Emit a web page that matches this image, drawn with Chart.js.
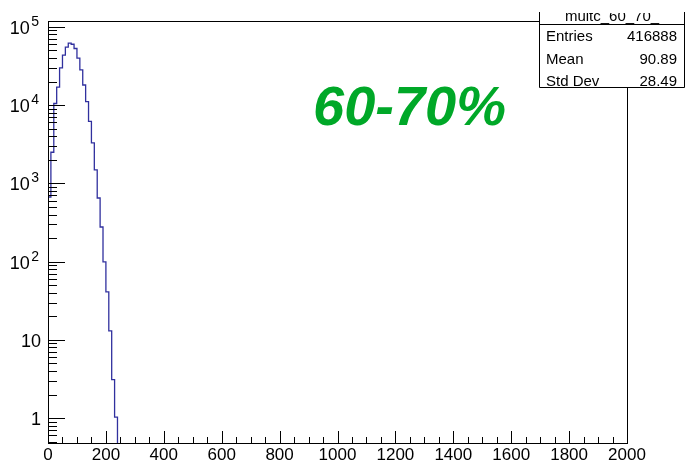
<!DOCTYPE html>
<html>
<head>
<meta charset="utf-8">
<script src="https://cdn.jsdelivr.net/npm/chart.js@4.4.1/dist/chart.umd.min.js"></script>
<style>
    html, body { margin: 0; padding: 0; background: #fff; }
    #wrap { width: 688px; height: 466px; }
</style>
</head>
<body>
<div id="wrap"><canvas id="c" width="688" height="466"></canvas></div>
<script>
// Histograma de multiplicidad (centralidad 60-70%), bins de 10 unidades, eje Y logarítmico.
var binEdges = [0, 10, 20, 30, 40, 50, 60, 70, 80, 90, 100, 110, 120, 130, 140, 150, 160, 170, 180, 190, 200, 210, 220, 230, 240, 250];
// el último bin está vacío; en escala log se pinta por debajo del mínimo (recortado)
var counts = [90, 670, 2500, 10500, 17000, 30000, 43500, 55000, 62000, 60000, 53000, 39800, 28200, 18100, 11100, 6200, 3300, 1490, 650, 277, 99, 41, 13, 3.1, 1.03, 1e-6];

var xTickLabels = [0, 200, 400, 600, 800, 1000, 1200, 1400, 1600, 1800, 2000];
var yTickValues = [1, 10, 100, 1000, 10000, 100000];
var yTickLabels = [["1", ""], ["10", ""], ["10", "2"], ["10", "3"], ["10", "4"], ["10", "5"]];

var histName = "multc_60_70_";
var statLabels = ["Entries", "Mean", "Std Dev"];
var statValues = ["416888", "90.89", "28.49"];
var centrality = "60-70%";

var FONT = "'Liberation Sans', Arial, sans-serif";

// Marco, marcas hacia dentro, etiquetas y caja de estadísticas al estilo ROOT.
var rootFrame = {
    id: "rootFrame",
    afterDraw: function (chart) {
        var ctx = chart.ctx, a = chart.chartArea;
        var xs = chart.scales.x, ys = chart.scales.y;
        var i, v, px, py;
        ctx.save();
        ctx.strokeStyle = "#000";
        ctx.lineWidth = 1;
        ctx.strokeRect(Math.round(a.left) + 0.5, Math.round(a.top) + 0.5,
            Math.round(a.right - a.left), Math.round(a.bottom - a.top));

        ctx.beginPath();
        for (v = 0; v <= 2000; v += 50) {
            px = Math.round(xs.getPixelForValue(v)) + 0.5;
            ctx.moveTo(px, a.bottom);
            ctx.lineTo(px, a.bottom - (v % 200 === 0 ? 12 : 6));
        }
        for (var d = -1; d <= 5; d++) {
            for (var m = 1; m <= 9; m++) {
                v = m * Math.pow(10, d);
                if (v < ys.min || v > ys.max) continue;
                py = Math.round(ys.getPixelForValue(v)) + 0.5;
                ctx.moveTo(a.left, py);
                ctx.lineTo(a.left + (m === 1 ? 17 : 9), py);
            }
        }
        ctx.stroke();

        ctx.fillStyle = "#000";
        ctx.font = "17px " + FONT;
        ctx.textAlign = "center";
        ctx.textBaseline = "alphabetic";
        for (i = 0; i < xTickLabels.length; i++) {
            ctx.fillText(String(xTickLabels[i]), xs.getPixelForValue(xTickLabels[i]), a.bottom + 17);
        }

        ctx.textAlign = "right";
        for (i = 0; i < yTickValues.length; i++) {
            py = ys.getPixelForValue(yTickValues[i]);
            var base = yTickLabels[i][0], sup = yTickLabels[i][1];
            if (sup) {
                ctx.font = "14px " + FONT;
                ctx.fillText(sup, 39, py - 1);
                var sw = ctx.measureText(sup).width;
                ctx.font = "18px " + FONT;
                ctx.fillText(base, 39 - sw - 1.5, py + 7);
            } else {
                ctx.font = "18px " + FONT;
                ctx.fillText(base, 41, py + 7);
            }
        }

        // caja de estadísticas
        var bx = 539.5, by = 12, bw = 145, bb = 87.5;
        ctx.fillStyle = "#fff";
        ctx.fillRect(bx, by, bw, bb - by);
        ctx.beginPath();
        ctx.moveTo(bx, by); ctx.lineTo(bx, bb); ctx.lineTo(bx + bw, bb); ctx.lineTo(bx + bw, by);
        ctx.moveTo(bx, 24.5); ctx.lineTo(bx + bw, 24.5);
        ctx.stroke();

        ctx.save();
        ctx.beginPath();
        ctx.rect(bx, 13, bw, 11);
        ctx.clip();
        ctx.fillStyle = "#000";
        ctx.font = "15px " + FONT;
        ctx.textAlign = "center";
        ctx.fillText(histName, bx + bw / 2, 21);
        ctx.restore();

        ctx.fillStyle = "#000";
        ctx.font = "15px " + FONT;
        var rows = [41, 64, 86];
        for (i = 0; i < statLabels.length; i++) {
            ctx.textAlign = "left";
            ctx.fillText(statLabels[i], 546, rows[i]);
            ctx.textAlign = "right";
            ctx.fillText(statValues[i], 677, rows[i]);
        }

        ctx.fillStyle = "rgb(0,168,40)";
        ctx.font = "italic bold 56px " + FONT;
        ctx.textAlign = "left";
        ctx.fillText(centrality, 313, 125);
        ctx.restore();
    }
};

var points = binEdges.map(function (e, i) { return { x: e, y: counts[i] }; });

new Chart(document.getElementById("c"), {
    type: "line",
    data: {
        datasets: [{
            data: points,
            borderColor: "#30309e",
            borderWidth: 1.3,
            pointRadius: 0,
            stepped: "after",
            fill: false,
        }],
    },
    options: {
        responsive: false,
        animation: false,
        layout: { padding: { left: 48, right: 61, top: 21, bottom: 23 } },
        plugins: { legend: { display: false }, tooltip: { enabled: false } },
        scales: {
            x: { type: "linear", min: 0, max: 2000, display: false },
            y: { type: "logarithmic", min: 0.48, max: 119000, display: false },
        },
    },
    plugins: [rootFrame],
});
</script>
</body>
</html>
